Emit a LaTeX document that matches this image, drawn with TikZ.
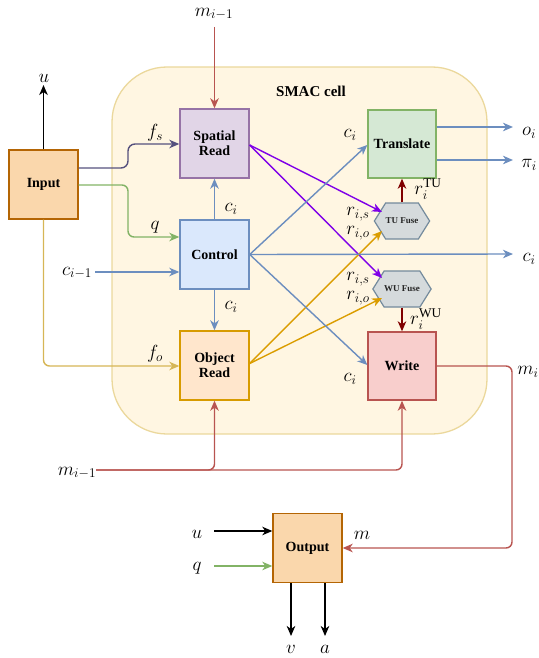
\RequirePackage{fix-cm}
\documentclass[tikz,border=0pt]{standalone}
\usepackage{fontspec}
\setmainfont{Liberation Serif}
\usetikzlibrary{arrows.meta,shapes.symbols,calc}
\definecolor{cellfill}{HTML}{FFF6E2}
\definecolor{celldraw}{HTML}{EBD89C}
\definecolor{inpfill}{HTML}{FAD7AC}
\definecolor{inpdraw}{HTML}{B46504}
\definecolor{srfill}{HTML}{E1D5E7}
\definecolor{srdraw}{HTML}{9673A6}
\definecolor{ctlfill}{HTML}{DAE8FC}
\definecolor{ctldraw}{HTML}{6C8EBF}
\definecolor{objfill}{HTML}{FFE6CC}
\definecolor{objdraw}{HTML}{D79B00}
\definecolor{trfill}{HTML}{D5E8D4}
\definecolor{trdraw}{HTML}{82B366}
\definecolor{wrfill}{HTML}{F8CECC}
\definecolor{wrdraw}{HTML}{B85450}
\definecolor{hexfill}{HTML}{D5DADC}
\definecolor{hexdraw}{HTML}{738A9C}
\definecolor{cblue}{HTML}{6C8EBF}
\definecolor{cgreen}{HTML}{82B366}
\definecolor{cgold}{HTML}{D6B656}
\definecolor{cfs}{HTML}{56517E}
\definecolor{cred}{HTML}{B85450}
\definecolor{cpurple}{HTML}{7F00E8}
\definecolor{corange}{HTML}{DB9D00}
\definecolor{cdark}{HTML}{800000}
\begin{document}
\begin{tikzpicture}[x=1pt,y=-1pt,
  box/.style={draw, line width=1.4pt, minimum width=69pt, minimum height=69pt,
    font=\fontsize{14}{15}\selectfont\bfseries, align=center, inner sep=1pt},
  hex/.style={signal, signal to=east and west, signal pointer angle=116,
    draw=hexdraw, fill=hexfill, line width=1.2pt, minimum width=46pt, minimum height=36pt,
    inner sep=0pt, font=\fontsize{9}{10}\selectfont\bfseries, text=black!85},
  lbl/.style={font=\fontsize{19}{20}\selectfont, inner sep=0pt},
  conn/.style={line width=1.4pt, -{Stealth[length=10pt,width=8.5pt,inset=3pt]}}]
\useasboundingbox (0,0) rectangle (538,658);

% SMAC cell
\node[draw=celldraw, fill=cellfill, line width=1.3pt, rounded corners=55pt,
  minimum width=375pt, minimum height=367pt] (cell) at (299.5,250.5) {};
\node[font=\fontsize{15}{16}\selectfont\bfseries] (celllbl) at (311,91) {SMAC cell};

% boxes
\node[box, fill=inpfill, draw=inpdraw] (inp) at (43.5,184.5) {Input};
\node[box, fill=srfill, draw=srdraw] (sr) at (214.5,143.5) {Spatial\\Read};
\node[box, fill=ctlfill, draw=ctldraw] (ctl) at (214.5,254.5) {Control};
\node[box, fill=objfill, draw=objdraw] (obj) at (214.5,365.5) {Object\\Read};
\node[box, fill=trfill, draw=trdraw, minimum width=68pt, minimum height=68pt] (tr) at (402,144) {Translate};
\node[box, fill=wrfill, draw=wrdraw, minimum width=68pt, minimum height=68pt] (wr) at (402,366) {Write};
\node[box, fill=inpfill, draw=inpdraw] (out) at (307.5,548) {Output};
\node[hex] (tu) at (402,221) {TU Fuse};
\node[hex] (wu) at (402,289) {WU Fuse};

% labels
\node[lbl] (mtop) at (214,14) {$m_{i-1}$};
\node[lbl] (ulbl) at (44,78) {$u$};
\node[lbl] at (155,133) {$f_s$};
\node[lbl] at (155,227) {$q$};
\node[lbl] (cim) at (77,273) {$c_{i-1}$};
\node[lbl] at (231,209) {$c_i$};
\node[lbl] at (231,307) {$c_i$};
\node[lbl] at (155,354) {$f_o$};
\node[lbl] at (350,135) {$c_i$};
\node[lbl] at (350,379) {$c_i$};
\node[lbl] at (529,133) {$o_i$};
\node[lbl] at (529,165) {$\pi_i$};
\node[lbl] at (529,259) {$c_i$};
\node[lbl] at (528,372) {$m_i$};
\node[lbl] at (362,535) {$m$};
\node[lbl] at (428,189) {$r_i^{\mathrm{TU}}$};
\node[lbl] at (426,319) {$r_i^{\mathrm{WU}}$};
\node[lbl] at (358,214) {$r_{i,s}$};
\node[lbl] at (358,233) {$r_{i,o}$};
\node[lbl] at (358,279) {$r_{i,s}$};
\node[lbl] at (358,298) {$r_{i,o}$};
\node[lbl] (mbot) at (77,473) {$m_{i-1}$};
\node[lbl] (uo) at (197,534) {$u$};
\node[lbl] (qo) at (197,568) {$q$};
\node[lbl] at (291,649) {$v$};
\node[lbl] at (325,649) {$a$};

% free ends
\coordinate (uend) at (43.5,85);
\coordinate (oend) at (513,127);
\coordinate (piend) at (513,160);
\coordinate (cend) at (513,254);
\coordinate (vend) at (291,636);
\coordinate (aend) at (325,636);
\coordinate (mb1) at (96,470);
\coordinate (uo1) at (214,531);
\coordinate (qo1) at (214,566);
\coordinate (mtop1) at (214.5,27);

% connectors
\draw[conn, black] (inp.north) -- (uend);
\draw[conn, cred] (mtop1) -- (sr.north);
\draw[conn, cfs, rounded corners=7pt] ($(inp.east)+(0,-16.5)$) -- (128,168) -- (128,144) -- ($(sr.west)+(0,0.5)$);
\draw[conn, cgreen, rounded corners=6pt] ($(inp.east)+(0,0.5)$) -- (128,185) -- (128,237) -- ($(ctl.west)+(0,-17.5)$);
\draw[conn, cblue] ($(cim.east)+(3,-1)$) -- ($(ctl.west)+(0,17.5)$);
\draw[conn, cblue] (ctl.north) -- (sr.south);
\draw[conn, cblue] (ctl.south) -- (obj.north);
\draw[conn, cgold, rounded corners=6pt] (inp.south) -- (43.5,366) -- ($(obj.west)+(0,0.5)$);
\draw[conn, cpurple] ($(sr.east)+(0,1.5)$) -- ($(tu.center)+(-20,-9)$);
\draw[conn, cpurple] ($(sr.east)+(0,1.5)$) -- ($(wu.center)+(-20,-11)$);
\draw[conn, corange] ($(obj.east)+(0,-2)$) -- ($(tu.center)+(-20,10)$);
\draw[conn, corange] ($(obj.east)+(0,-2)$) -- ($(wu.center)+(-20,9)$);
\draw[conn, cblue] (ctl.east) -- ($(tr.west)+(0,1)$);
\draw[conn, cblue] (ctl.east) -- ($(wr.west)+(0,-1)$);
\draw[conn, cblue] (ctl.east) -- (cend);
\draw[conn, cblue] ($(tr.east)+(0,-17)$) -- (oend);
\draw[conn, cblue] ($(tr.east)+(0,16)$) -- (piend);
\draw[conn, cdark] (tu.north) -- (tr.south);
\draw[conn, cdark] (wu.south) -- (wr.north);
\draw[conn, cred, rounded corners=6pt] (wr.east) -- (512,366) -- (512,548) -- (out.east);
\draw[conn, cred, rounded corners=6pt] (mb1) -| (obj.south);
\draw[conn, cred, rounded corners=6pt] (mb1) -| (wr.south);
\draw[conn, black] (uo1) -- ($(out.west)+(0,-17)$);
\draw[conn, cgreen] (qo1) -- ($(out.west)+(0,18)$);
\draw[conn, black] ($(out.south)+(-16.5,0)$) -- (vend);
\draw[conn, black] ($(out.south)+(17.5,0)$) -- (aend);
\end{tikzpicture}
\end{document}
